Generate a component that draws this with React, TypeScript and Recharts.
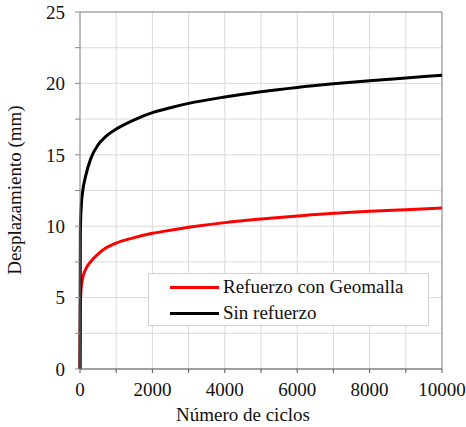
import { LineChart, Line, XAxis, YAxis, CartesianGrid, Legend, ReferenceLine, Label } from 'recharts';

const FONT = '"Liberation Serif", "Times New Roman", serif';

// cycles (x) and displacement in mm for both series
const cycles = [0, 10, 30, 80, 150, 300, 500, 700, 1000, 1500, 2000, 2500, 3000, 4000, 5000, 6000, 7000, 8000, 9000, 10000];
const conGeomalla = [0, 4.3, 5.6, 6.42, 6.95, 7.53, 8.05, 8.45, 8.82, 9.2, 9.5, 9.72, 9.92, 10.25, 10.5, 10.71, 10.9, 11.04, 11.16, 11.27];
const sinRefuerzo = [0, 9.5, 11.2, 12.55, 13.45, 14.75, 15.7, 16.25, 16.8, 17.45, 17.95, 18.3, 18.6, 19.05, 19.42, 19.72, 19.97, 20.19, 20.38, 20.57];

const xTicks = [0, 1000, 2000, 3000, 4000, 5000, 6000, 7000, 8000, 9000, 10000];
const yTicks = [0, 2.5, 5, 7.5, 10, 12.5, 15, 17.5, 20, 22.5, 25];

const data = cycles.map((c, i) => ({ ciclos: c, geomalla: conGeomalla[i], sin: sinRefuerzo[i] }));

const renderLegend = (props: any) => {
  const { payload = [] } = props;
  return (
    <div
      style={{
        width: 281,
        height: 53,
        boxSizing: 'border-box',
        border: '1px solid #d0d0d0',
        background: '#fff',
        fontFamily: FONT,
        fontSize: 19,
        color: '#111',
      }}
    >
      {payload.map((entry: any) => (
        <div key={entry.value} style={{ display: 'flex', alignItems: 'center', height: 26 }}>
          <span style={{ display: 'inline-block', width: 49, height: 3, background: entry.color, marginLeft: 21, marginRight: 4 }} />
          <span>{entry.value}</span>
        </div>
      ))}
    </div>
  );
};

export default function App() {
  return (
    <div style={{ position: 'absolute', left: 0, top: 0, width: 466, height: 427, background: '#fff' }}>
      <LineChart width={466} height={427} data={data} margin={{ top: 12, right: 24, bottom: 0, left: 0 }}>
        <CartesianGrid stroke="#dadada" strokeWidth={1} />
        <XAxis
          dataKey="ciclos"
          type="number"
          domain={[0, 10000]}
          ticks={xTicks}
          interval={0}
          height={58}
          tickSize={4}
          tickMargin={10}
          axisLine={{ stroke: '#555' }}
          tickLine={{ stroke: '#555' }}
          tick={{ fill: '#111', fontSize: 19, fontFamily: FONT }}
          tickFormatter={(v: number) => (v % 2000 === 0 ? String(v) : '')}
        >
          <Label
            content={() => (
              <text x={243} y={421} textAnchor="middle" fontFamily={FONT} fontSize={19} fill="#111">
                Número de ciclos
              </text>
            )}
          />
        </XAxis>
        <YAxis
          type="number"
          domain={[0, 25]}
          ticks={yTicks}
          interval={0}
          width={80}
          tickSize={5}
          tickMargin={10}
          axisLine={{ stroke: '#8a8a8a' }}
          tickLine={{ stroke: '#8a8a8a' }}
          tick={{ fill: '#111', fontSize: 19, fontFamily: FONT }}
          tickFormatter={(v: number) => (v % 5 === 0 ? String(v) : '')}
        >
          <Label
            content={() => (
              <text x={21} y={190} transform="rotate(-90 21 190)" textAnchor="middle" fontFamily={FONT} fontSize={19} fill="#111">
                Desplazamiento (mm)
              </text>
            )}
          />
        </YAxis>
        <ReferenceLine y={25} stroke="#8a8a8a" />
        <ReferenceLine x={10000} stroke="#8a8a8a" />
        <Line
          type="monotone"
          dataKey="geomalla"
          name="Refuerzo con Geomalla"
          stroke="#ff0000"
          strokeWidth={3}
          dot={false}
          isAnimationActive={false}
        />
        <Line
          type="monotone"
          dataKey="sin"
          name="Sin refuerzo"
          stroke="#000000"
          strokeWidth={3}
          dot={false}
          isAnimationActive={false}
        />
        <Legend
          layout="horizontal"
          verticalAlign="middle"
          align="center"
          content={renderLegend}
          wrapperStyle={{ left: 148, top: 273, width: 281, height: 53 }}
        />
      </LineChart>
    </div>
  );
}
